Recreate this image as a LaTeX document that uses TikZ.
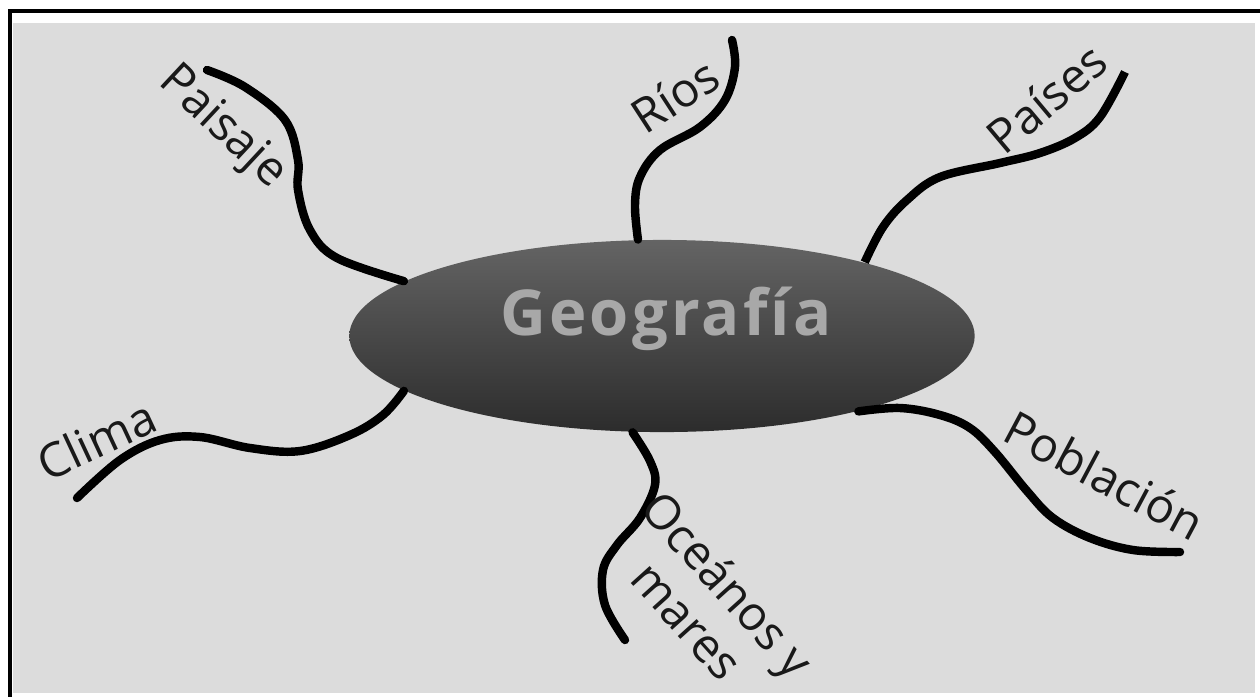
\documentclass[tikz,border=0pt]{standalone}
\usepackage{fontspec}
\setmainfont{Open Sans}
\usepackage{tikz}
\usetikzlibrary{shapes.geometric}
\definecolor{paper}{RGB}{220,220,220}
\definecolor{hubtop}{RGB}{100,100,100}
\definecolor{hubbottom}{RGB}{44,44,44}
\definecolor{titlegray}{RGB}{168,168,168}
\definecolor{ink}{RGB}{25,25,25}

\begin{document}
\begin{tikzpicture}[x=0.01cm, y=-0.01cm,
    branch/.style={line width=2.4pt, line cap=round, smooth, tension=0.6},
    topic/.style={font=\fontsize{13.5}{15.5}\selectfont, text=ink, inner sep=0pt},
    hub/.style={ellipse, minimum width=6.25cm, minimum height=1.92cm,
      inner sep=0pt, top color=hubtop, bottom color=hubbottom}]
  % Frame and paper
  \useasboundingbox (0,0) rectangle (1260,696);
  \fill[white] (0,0) rectangle (1260,696);
  \fill[paper] (13,23) rectangle (1255,693);
  \draw[line width=1.2pt] (10,700) -- (10,11) -- (1264,11);
  % Central topic
  \node[hub] (geo) at (662,336) {};
  \node[font={\fontsize{18}{21}\selectfont\bfseries\addfontfeature{LetterSpace=5}},
    text=titlegray, anchor=base] (title) at (666,335) {Geografía};
  % Free ends of the branches
  \coordinate (paisajeend) at (207,70);
  \coordinate (riosend) at (732,40);
  \coordinate (paisesend) at (1125,72);
  \coordinate (climaend) at (77,498);
  \coordinate (oceanosend) at (625,640);
  \coordinate (poblacionend) at (1180,552);
  % Branches
  \draw[branch] plot coordinates {(geo.168.8) (337,258) (310,230) (298,190)
    (298,160) (285,120) (245,87) (paisajeend)};
  \draw[branch] plot coordinates {(geo.104) (635,205) (640,177) (660,150)
    (700,127) (725,100) (735,67) (riosend)};
  \draw[branch, line cap=butt] plot coordinates {(geo.20) (883,227) (907,200)
    (940,177) (1000,163) (1040,153) (1075,138) (1100,117) (paisesend)};
  \draw[branch] plot coordinates {(geo.192.7) (383,415) (350,435) (300,451)
    (250,448) (200,437) (160,440) (120,460) (climaend)};
  \draw[branch] plot coordinates {(geo.253) (650,461) (655,485) (640,518)
    (617,545) (603,570) (605,605) (oceanosend)};
  \draw[branch] plot coordinates {(geo.339) (900,408) (940,415) (970,428)
    (995,452) (1027,491) (1053,518) (1090,538) (1133,550) (poblacionend)};
  % Labels
  \node[topic, rotate=-43] (paisaje) at (222,128) {Paisaje};
  \node[topic, rotate=33] (rios) at (675,95) {Ríos};
  \node[topic, rotate=40] (paises) at (1046,98) {Países};
  \node[topic, rotate=25] (clima) at (96,440) {Clima};
  \node[topic, rotate=-48, align=center] (oceanos) at (708,602) {Oceános y\\mares};
  \node[topic, rotate=-28] (poblacion) at (1105,475) {Población};
\end{tikzpicture}
\end{document}
